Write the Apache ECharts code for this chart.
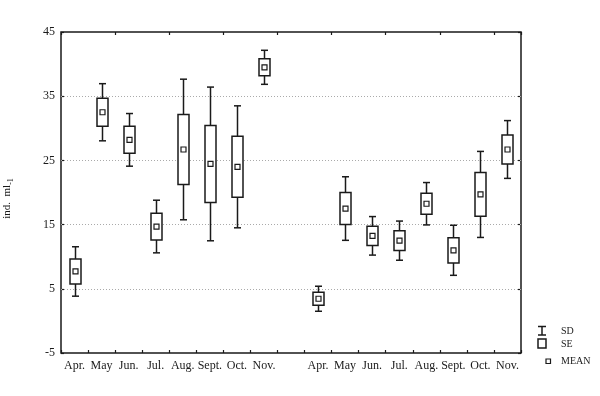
<!DOCTYPE html>
<html>
<head>
<meta charset="utf-8">
<script src="https://cdn.jsdelivr.net/npm/echarts@6/dist/echarts.min.js"></script>
<style>html,body{margin:0;padding:0;background:#fff;}#c{width:600px;height:396px;}</style>
</head>
<body>
<div id="c"></div>
<script>
const categories = ['Apr.','May','Jun.','Jul.','Aug.','Sept.','Oct.','Nov.','','Apr.','May','Jun.','Jul.','Aug.','Sept.','Oct.','Nov.'];
const meanValues = [7.7, 32.5, 28.2, 14.7, 26.7, 24.45, 24.0, 39.5, null, 3.45, 17.5, 13.25, 12.5, 18.25, 11.0, 19.7, 26.7];
const seValues   = [1.95, 2.2, 2.1, 2.08, 5.45, 6.0, 4.75, 1.33, null, 1.0, 2.5, 1.5, 1.53, 1.65, 1.97, 3.4, 2.25];
const sdValues   = [3.85, 4.45, 4.1, 4.1, 10.95, 11.97, 9.5, 2.65, null, 1.95, 4.95, 3.0, 3.05, 3.3, 3.9, 6.7, 4.5];
const yTickValues = [-5, 5, 15, 25, 35, 45];
const gridValues = [5, 15, 25, 35];
const legendLabels = ['SD', 'SE', 'MEAN'];

const FONT = 'Liberation Serif';
const INK = '#1a1a1a';

const seriesData = [];
categories.forEach((c, i) => {
  if (meanValues[i] != null) seriesData.push([i, meanValues[i], seValues[i], sdValues[i]]);
});

function renderItem(params, api) {
  const x = api.value(0), m = api.value(1), se = api.value(2), sd = api.value(3);
  const c = api.coord([x, m]);
  const seTop = api.coord([x, m + se])[1], seBot = api.coord([x, m - se])[1];
  const sdTop = api.coord([x, m + sd])[1], sdBot = api.coord([x, m - sd])[1];
  const cx = Math.round(c[0]) + 0.5;
  const bw = 11, cw = 7, mw = 5;
  const st = {stroke: INK, lineWidth: 1.5, fill: null};
  return {
    type: 'group',
    children: [
      {type: 'line', shape: {x1: cx, y1: sdTop, x2: cx, y2: seTop}, style: st},
      {type: 'line', shape: {x1: cx, y1: seBot, x2: cx, y2: sdBot}, style: st},
      {type: 'line', shape: {x1: cx - cw / 2, y1: sdTop, x2: cx + cw / 2, y2: sdTop}, style: st},
      {type: 'line', shape: {x1: cx - cw / 2, y1: sdBot, x2: cx + cw / 2, y2: sdBot}, style: st},
      {type: 'rect', shape: {x: cx - bw / 2, y: seTop, width: bw, height: seBot - seTop}, style: {stroke: INK, lineWidth: 1.5, fill: '#fff'}},
      {type: 'rect', shape: {x: cx - mw / 2, y: c[1] - mw / 2, width: mw, height: mw}, style: {stroke: INK, lineWidth: 1.2, fill: '#fff'}}
    ]
  };
}

const chart = echarts.init(document.getElementById('c'), null, {renderer: 'canvas'});

const lx = 542, ly = 331;
const legendGraphics = [
  {type: 'line', shape: {x1: lx - 4, y1: ly - 4.5, x2: lx + 4, y2: ly - 4.5}, style: {stroke: INK, lineWidth: 1.5}},
  {type: 'line', shape: {x1: lx - 4, y1: ly + 4, x2: lx + 4, y2: ly + 4}, style: {stroke: INK, lineWidth: 1.5}},
  {type: 'line', shape: {x1: lx, y1: ly - 4.5, x2: lx, y2: ly + 4}, style: {stroke: INK, lineWidth: 1.5}},
  {type: 'rect', shape: {x: lx - 4, y: 339, width: 8, height: 9}, style: {stroke: INK, lineWidth: 1.5, fill: '#fff'}},
  {type: 'rect', shape: {x: 546, y: 359, width: 4.5, height: 4.5}, style: {stroke: INK, lineWidth: 1.2, fill: '#fff'}},
  {type: 'text', x: 561, y: 331, style: {text: legendLabels[0], font: '10px "' + FONT + '"', fill: INK, verticalAlign: 'middle'}},
  {type: 'text', x: 561, y: 344, style: {text: legendLabels[1], font: '10px "' + FONT + '"', fill: INK, verticalAlign: 'middle'}},
  {type: 'text', x: 561, y: 361, style: {text: legendLabels[2], font: '10px "' + FONT + '"', fill: INK, verticalAlign: 'middle'}}
];

chart.setOption({
  animation: false,
  backgroundColor: '#fff',
  grid: {left: 61, top: 32, right: 79, bottom: 43, show: true, borderColor: INK, borderWidth: 1.5, backgroundColor: 'transparent', containLabel: false, outerBoundsMode: 'none'},
  xAxis: [
    {
      type: 'category', data: categories, boundaryGap: true, position: 'bottom',
      axisLine: {show: false, onZero: false},
      axisTick: {show: true, inside: true, length: 3, lineStyle: {color: INK, width: 1.2}},
      axisLabel: {color: INK, fontFamily: FONT, fontSize: 12, margin: 7, interval: 0},
      splitLine: {show: false}
    },
    {
      type: 'category', data: categories, boundaryGap: true, position: 'top',
      axisLine: {show: false, onZero: false},
      axisTick: {show: true, inside: true, length: 3, lineStyle: {color: INK, width: 1.2}},
      axisLabel: {show: false},
      splitLine: {show: false}
    }
  ],
  yAxis: [
    {
      type: 'value', min: -5, max: 45, position: 'left',
      name: '{a|ind.  ml}{b|-1}', nameLocation: 'middle', nameGap: 46,
      nameTextStyle: {fontFamily: FONT, color: INK, padding: [0, 12, 0, 0], rich: {a: {fontFamily: FONT, fontSize: 11, color: INK}, b: {fontFamily: FONT, fontSize: 8, color: INK, padding: [7, 0, 0, 0]}}},
      axisLine: {show: false, onZero: false},
      axisTick: {show: true, inside: true, length: 3, customValues: yTickValues, lineStyle: {color: INK, width: 1.2}},
      axisLabel: {color: INK, fontFamily: FONT, fontSize: 12, margin: 6, customValues: yTickValues},
      splitLine: {show: false}
    },
    {
      type: 'value', min: -5, max: 45, position: 'right',
      axisLine: {show: false, onZero: false},
      axisTick: {show: true, inside: true, length: 3, customValues: yTickValues, lineStyle: {color: INK, width: 1.2}},
      axisLabel: {show: false, customValues: yTickValues},
      splitLine: {show: false}
    }
  ],
  series: [{
    type: 'custom', xAxisIndex: 0, yAxisIndex: 0,
    renderItem: renderItem, data: seriesData, clip: false, z: 3,
    markLine: {
      silent: true, symbol: 'none', label: {show: false}, z: 1,
      lineStyle: {color: '#aaaaaa', type: [1, 2], width: 1},
      data: gridValues.map(v => ({yAxis: v}))
    }
  }],
  graphic: legendGraphics
});
</script>
</body>
</html>
